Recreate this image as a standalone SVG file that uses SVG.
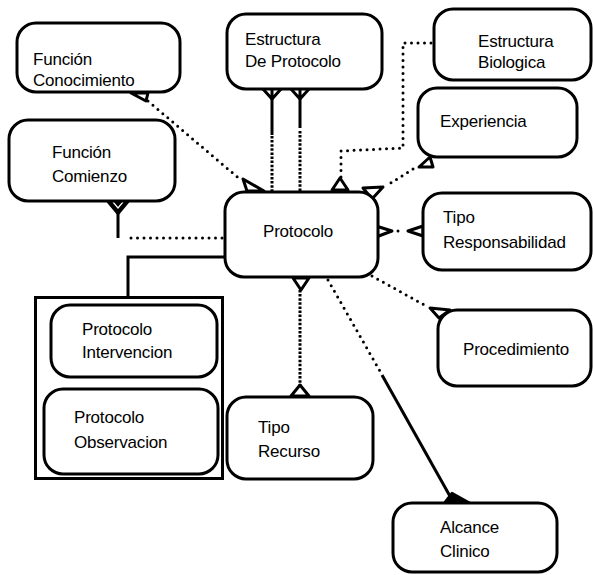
<svg xmlns="http://www.w3.org/2000/svg" width="593" height="575" viewBox="0 0 593 575">
  <style>
    .box { fill: #fff; stroke: #000; stroke-width: 3; }
    .lbl { font-family: "Liberation Sans", Arial, sans-serif; font-size: 17px; letter-spacing: -0.2px; fill: #000; }
    .solid { fill: none; stroke: #000; stroke-width: 3; }
    .dot { fill: none; stroke: #000; stroke-width: 3; stroke-linecap: round; stroke-dasharray: 0 6.5; }
    .dense { fill: none; stroke: #000; stroke-width: 3; stroke-dasharray: 2.5 1.6; }
    .tip { fill: #fff; stroke: #000; stroke-width: 3; stroke-linejoin: round; }
    .foot { fill: #000; stroke: #000; stroke-width: 2.5; stroke-linejoin: round; }
  </style>

  <!-- connectors -->
  <g id="connectors">
    <!-- Función Conocimiento -> Protocolo -->
    <path class="dot" d="M148,101 L242,181"/>
    <polygon class="tip" points="131,93 148,93 146,101"/>
    <polygon class="tip" points="243,179 247,191 264,191"/>

    <!-- Función Comienzo -> Protocolo -->
    <path class="solid" d="M118,213 L118,238"/>
    <path class="dot" d="M131,238 L224,238"/>
    <path class="foot" d="M108,202 L128,202 L118,214 Z"/>
    <path d="M113,202 L118,208 L123,202" fill="none" stroke="#fff" stroke-width="1.2"/>

    <!-- Estructura De Protocolo -> Protocolo (two links) -->
    <path class="solid" d="M272,98 L272,135"/>
    <path class="dense" d="M272,136 L272,192"/>
    <path class="solid" d="M300,98 L300,128"/>
    <path class="dense" d="M300,131 L300,192"/>
    <path class="solid" d="M263,89 L272,99 L281,89 M272,89 L272,99"/>
    <path class="solid" d="M291,89 L300,99 L309,89 M300,89 L300,99"/>

    <!-- Estructura Biologica -> Protocolo -->
    <path class="dot" d="M431,43 L403,43 L403,148 L341,151 L341,177"/>
    <polygon class="tip" points="332,190 340,178 348,190"/>

    <!-- Experiencia -> Protocolo -->
    <path class="dot" d="M413,169 L386,186"/>
    <polygon class="tip" points="419,167 430,157 433,167"/>
    <polygon class="tip" points="363,188 383,187 372,199"/>

    <!-- Protocolo -> Tipo Responsabilidad -->
    <path class="dot" d="M398,231 L404,231"/>
    <polygon class="tip" points="376,226 392,231 376,237"/>
    <polygon class="tip" points="408,231 423,226 423,236"/>

    <!-- Protocolo -> Procedimiento -->
    <path class="dot" d="M372,276 L428,307"/>
    <polygon class="tip" points="430,308 450,310 439,318"/>

    <!-- Protocolo -> Tipo Recurso -->
    <path class="dense" d="M300,290 L300,385"/>
    <polygon class="tip" points="293,278 309,278 301,290"/>
    <polygon class="tip" points="291,396 309,396 300,385"/>

    <!-- Protocolo -> Alcance Clinico -->
    <path class="dot" d="M328,280 L381,373"/>
    <path class="solid" d="M382,375 L451,498"/>
    <path class="foot" d="M445,502 L470,503 L452,493 Z"/>

    <!-- Protocolo -> subtypes -->
    <path class="solid" d="M225,257 L128,257 L128,297"/>
  </g>

  <!-- nodes -->
  <g id="funcion-conocimiento">
    <rect class="box" x="17" y="23" width="163" height="69" rx="19"/>
    <text class="lbl" x="33" y="65">Función</text>
    <text class="lbl" x="33" y="86">Conocimiento</text>
  </g>

  <g id="funcion-comienzo">
    <rect class="box" x="9" y="120" width="166" height="81" rx="19"/>
    <text class="lbl" x="52" y="158">Función</text>
    <text class="lbl" x="52" y="182">Comienzo</text>
  </g>

  <g id="estructura-protocolo">
    <rect class="box" x="227" y="14" width="155" height="75" rx="19"/>
    <text class="lbl" x="245" y="45">Estructura</text>
    <text class="lbl" x="245" y="67">De Protocolo</text>
  </g>

  <g id="estructura-biologica">
    <rect class="box" x="434" y="9" width="157" height="71" rx="19"/>
    <text class="lbl" x="478" y="47">Estructura</text>
    <text class="lbl" x="478" y="68">Biologica</text>
  </g>

  <g id="experiencia">
    <rect class="box" x="418" y="88" width="159" height="69" rx="19"/>
    <text class="lbl" x="440" y="127">Experiencia</text>
  </g>

  <g id="protocolo">
    <rect class="box" x="225" y="192" width="153" height="85" rx="19"/>
    <text class="lbl" x="263" y="237">Protocolo</text>
  </g>

  <g id="tipo-responsabilidad">
    <rect class="box" x="423" y="193" width="168" height="77" rx="19"/>
    <text class="lbl" x="443" y="223">Tipo</text>
    <text class="lbl" x="443" y="248">Responsabilidad</text>
  </g>

  <g id="procedimiento">
    <rect class="box" x="438" y="310" width="153" height="76" rx="19"/>
    <text class="lbl" x="463" y="355">Procedimiento</text>
  </g>

  <g id="protocolo-subtipos">
    <rect x="35.5" y="297.5" width="187" height="181" fill="none" stroke="#000" stroke-width="3"/>
    <g id="protocolo-intervencion">
      <rect class="box" x="51" y="305" width="166" height="72" rx="19"/>
      <text class="lbl" x="82" y="335">Protocolo</text>
      <text class="lbl" x="82" y="358">Intervencion</text>
    </g>
    <g id="protocolo-observacion">
      <rect class="box" x="44" y="389" width="174" height="85" rx="19"/>
      <text class="lbl" x="74" y="423">Protocolo</text>
      <text class="lbl" x="74" y="448">Observacion</text>
    </g>
  </g>

  <g id="tipo-recurso">
    <rect class="box" x="227" y="397" width="146" height="82" rx="19"/>
    <text class="lbl" x="258" y="433">Tipo</text>
    <text class="lbl" x="258" y="457">Recurso</text>
  </g>

  <g id="alcance-clinico">
    <rect class="box" x="393" y="503" width="164" height="69" rx="19"/>
    <text class="lbl" x="440" y="533">Alcance</text>
    <text class="lbl" x="440" y="557">Clinico</text>
  </g>
</svg>
